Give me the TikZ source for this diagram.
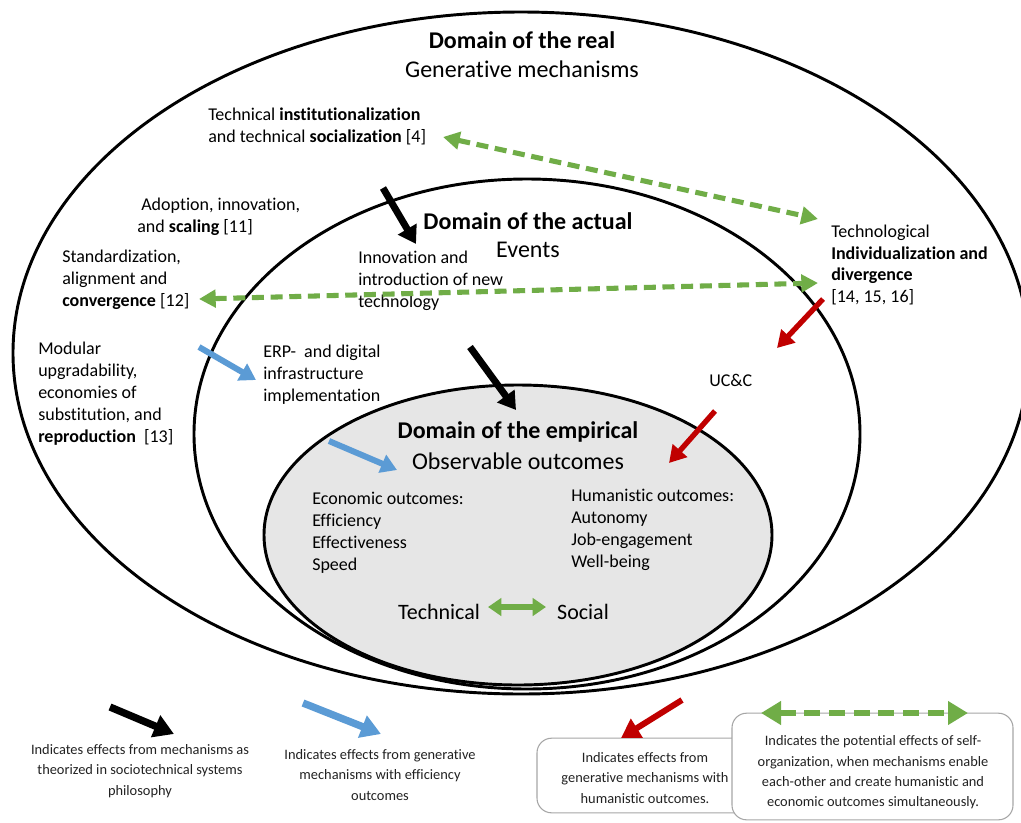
\documentclass[tikz,border=0pt]{standalone}
\usepackage{fontspec}
\setmainfont{Carlito}[Ligatures=NoCommon]
\usetikzlibrary{arrows.meta}
\definecolor{grn}{HTML}{70AD47}
\definecolor{blu}{HTML}{5B9BD5}
\definecolor{rd}{HTML}{C00000}
\definecolor{empfill}{HTML}{E6E6E6}
\definecolor{boxline}{HTML}{A6A6A6}
\definecolor{legtxt}{HTML}{222222}
\begin{document}
\begin{tikzpicture}[x=0.75pt,y=-0.75pt,
  dom/.style={draw=black, line width=2.2pt},
  ttl/.style={inner sep=0pt, font=\fontsize{18}{22}\selectfont\bfseries},
  sub/.style={inner sep=0pt, font=\fontsize{18}{22}\selectfont},
  body/.style={inner sep=0pt, font=\fontsize{13.5}{16.4}\selectfont, align=left, anchor=west},
  big/.style={inner sep=0pt, font=\fontsize{16.5}{20}\selectfont},
  legtext/.style={inner sep=0pt, text=legtxt, font=\fontsize{10.8}{15.3}\selectfont, align=center},
  legbox/.style={draw=boxline, line width=0.8pt, fill=white, rounded corners=11pt, inner sep=0pt},
  blkarrow/.style={draw=black, line width=5.2pt, -{Triangle[length=13pt,width=15.5pt]}},
  bluarrow/.style={draw=blu, line width=4.5pt, -{Triangle[length=12pt,width=14pt]}},
  redarrow/.style={draw=rd, line width=4pt, -{Triangle[length=12.5pt,width=14pt]}},
  grndash/.style={draw=grn, line width=3.8pt, dash pattern=on 9pt off 5pt,
     {Triangle[length=12.5pt,width=13pt]}-{Triangle[length=12.5pt,width=13pt]}},
  grnsolid/.style={draw=grn, line width=3.8pt,
     {Triangle[length=10pt,width=13pt]}-{Triangle[length=10pt,width=13pt]}}
]
\useasboundingbox (0,0) rectangle (1021,822);
\fill[white] (0,0) rectangle (1021,822);

% domains
\draw[dom] (521,353) ellipse [x radius=381pt, y radius=255.75pt];
\draw[dom] (527,434) ellipse [x radius=249.75pt, y radius=191.25pt];
\draw[dom, fill=empfill] (518,535) ellipse [x radius=190.5pt, y radius=112.5pt];

% titles
\node[ttl] (realT) at (522,40) {Domain of the real};
\node[sub] (realS) at (522,69) {Generative mechanisms};
\node[ttl] (actT) at (528,221) {Domain of the actual};
\node[sub] (actS) at (528,250) {Events};
\node[ttl] (empT) at (518,432) {Domain of the empirical};
\node[sub] (empS) at (518,461) {Observable outcomes};

% mechanisms
\node[body] (inst) at (208,126.5) {Technical \textbf{institutionalization}\\and technical \textbf{socialization} [4]};
\node[body] (adopt) at (137,216.5) {\hspace{3pt}Adoption, innovation,\\and \textbf{scaling} [11]};
\node[body] (stand) at (62,279.5) {Standardization,\\alignment and\\\textbf{convergence} [12]};
\node[body] (modul) at (38,393.5) {Modular\\upgradability,\\economies of\\substitution, and\\\textbf{reproduction}\ \ [13]};
\node[body] (innov) at (358,281) {Innovation and\\introduction of new\\technology};
\node[body] (erp) at (263,375) {ERP-\ \ and digital\\infrastructure\\implementation};
\node[body] (ucc) at (709,380) {UC\&C};
\node[body] (indiv) at (831,265) {Technological\\\textbf{Individualization and}\\\textbf{divergence}\\{[14, 15, 16]}};

% outcomes
\node[body] (econ) at (312,533) {Economic outcomes:\\Efficiency\\Effectiveness\\Speed};
\node[body] (human) at (571,530) {Humanistic outcomes:\\Autonomy\\Job-engagement\\Well-being};
\node[big] (tech) at (439,612) {Technical};
\node[big] (soc) at (583,612) {Social};

% arrow end points
\coordinate (b1s) at (383,188); \coordinate (b1e) at (416,244);
\coordinate (b2s) at (470,347); \coordinate (b2e) at (516,410);
\coordinate (u1s) at (199,347); \coordinate (u1e) at (256,380);
\coordinate (u2s) at (329,441); \coordinate (u2e) at (397,470);
\coordinate (r1s) at (823,299); \coordinate (r1e) at (777,348);
\coordinate (r2s) at (715,411); \coordinate (r2e) at (669,463);
\coordinate (g1a) at (443,137); \coordinate (g1b) at (818,219);
\coordinate (g2a) at (199,299); \coordinate (g2b) at (818,283);
\coordinate (g3a) at (488,607); \coordinate (g3b) at (546,607);

\draw[blkarrow] (b1s) -- (b1e);
\draw[blkarrow] (b2s) -- (b2e);
\draw[bluarrow] (u1s) -- (u1e);
\draw[bluarrow] (u2s) -- (u2e);
\draw[redarrow] (r1s) -- (r1e);
\draw[redarrow] (r2s) -- (r2e);
\draw[grndash] (g1a) -- (g1b);
\draw[grndash] (g2a) -- (g2b);
\draw[grnsolid] (g3a) -- (g3b);

% legend
\node[legtext] (leg1) at (140,771) {Indicates effects from mechanisms as\\theorized in sociotechnical systems\\philosophy};
\node[legtext] (leg2) at (380,775) {Indicates effects from generative\\mechanisms with efficiency\\outcomes};
\node[legbox, minimum width=162pt, minimum height=56pt] (box1) at (645,775.5) {};
\node[legtext] (leg3) at (645,778) {Indicates effects from\\generative mechanisms with\\humanistic outcomes.};
\node[legbox, minimum width=210.75pt, minimum height=80pt] (box2) at (872.5,766.5) {};
\node[legtext] (leg4) at (873,772.5) {Indicates the potential effects of self-\\organization, when mechanisms enable\\each-other and create humanistic and\\economic outcomes simultaneously.};

\coordinate (lb1s) at (110,707); \coordinate (lb1e) at (174,734);
\coordinate (lb2s) at (303,703); \coordinate (lb2e) at (381,734);
\coordinate (lr1s) at (682,700); \coordinate (lr1e) at (621,738);
\coordinate (lg1a) at (761,713); \coordinate (lg1b) at (968,713);
\draw[blkarrow, line width=5.5pt, -{Triangle[length=15pt,width=17pt]}] (lb1s) -- (lb1e);
\draw[bluarrow, line width=5.5pt, -{Triangle[length=15pt,width=17pt]}] (lb2s) -- (lb2e);
\draw[redarrow, line width=4.5pt, -{Triangle[length=14pt,width=16pt]}] (lr1s) -- (lr1e);
\draw[grndash, line width=4.8pt, dash pattern=on 12pt off 6.5pt,
   {Triangle[length=15pt,width=17pt]}-{Triangle[length=15pt,width=17pt]}] (lg1a) -- (lg1b);
\end{tikzpicture}
\end{document}
